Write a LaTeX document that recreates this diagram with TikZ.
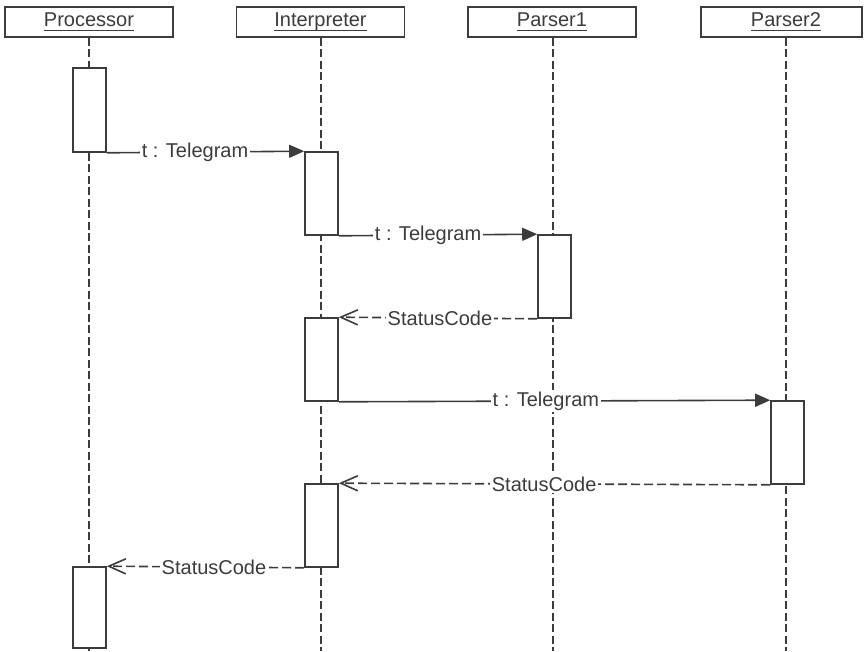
\documentclass[tikz,border=0pt]{standalone}
\usepackage{fontspec}
\setmainfont{Liberation Sans}
\usetikzlibrary{arrows.meta}
\definecolor{ink}{HTML}{3C3C3C}
% header caption: the name with a rule at a fixed depth below the baseline
\newcommand\headname[1]{\setbox0\hbox{#1}\rlap{\rule[-4.5pt]{\wd0}{1.2pt}}\box0}
\begin{document}
\begin{tikzpicture}[x=1pt,y=-1pt,
  every node/.style={font=\fontsize{20}{24}\selectfont, text=ink},
  head/.style={draw=ink, line width=1.6pt, minimum width=168pt, minimum height=30pt, inner sep=0pt, fill=white},
  act/.style={draw=ink, line width=1.6pt, fill=white, minimum width=33pt, inner sep=0pt},
  life/.style={draw=ink, line width=1.4pt, dash pattern=on 8pt off 3.5pt},
  call/.style={draw=ink, line width=1.6pt, -{Triangle[length=15pt,width=13pt]}},
  reply/.style={draw=ink, line width=1.6pt, dash pattern=on 9pt off 4pt, -{Straight Barb[length=17pt,width=15pt]}},
  lbl/.style={fill=white, inner sep=2pt}]
\useasboundingbox (0,0) rectangle (864,651);

% object headers
\node[head] (proc) at (89,22) {\headname{Processor}};
\node[head] (intp) at (320.5,22) {\headname{Interpreter}};
\node[head] (par1) at (552,22) {\headname{Parser1}};
\node[head, minimum width=161pt] (par2) at (781.5,22) {\hspace*{9pt}\headname{Parser2}};

% lifelines
\coordinate (procEnd) at (89,651);
\coordinate (intpEnd) at (321,651);
\coordinate (par1End) at (553,651);
\coordinate (par2End) at (786,651);
\draw[life] (proc.south -| procEnd) -- (procEnd);
\draw[life] (intp.south -| intpEnd) -- (intpEnd);
\draw[life] (par1.south -| par1End) -- (par1End);
\draw[life] (par2.south -| par2End) -- (par2End);

% activation bars
\node[act, minimum height=84pt] (pa1) at (89.5,110) {};
\node[act, minimum height=83pt] (ia1) at (321.5,193.5) {};
\node[act, minimum height=83pt] (qa1) at (554.5,276.5) {};
\node[act, minimum height=83pt] (ia2) at (321.5,359.5) {};
\node[act, minimum height=83pt] (ra1) at (787.5,442.5) {};
\node[act, minimum height=83pt] (ia3) at (321.5,525.5) {};
\node[act, minimum height=81pt] (pa2) at (89.5,607.5) {};

% messages
\draw[call] (pa1.south east) -- node[lbl, pos=0.447] {t : Telegram} (ia1.north west);
\draw[call] (ia1.south east) -- node[lbl, pos=0.45] {t : Telegram} (qa1.north west);
\draw[reply] (qa1.south west) -- node[lbl, pos=0.49] {StatusCode} (ia2.north east);
\draw[call] (ia2.south east) -- node[lbl, pos=0.48] {t : Telegram} (ra1.north west);
\draw[reply] (ra1.south west) -- node[lbl, pos=0.524] {StatusCode} (ia3.north east);
\draw[reply] (ia3.south west) -- node[lbl, pos=0.457] {StatusCode} (pa2.north east);
\end{tikzpicture}
\end{document}
